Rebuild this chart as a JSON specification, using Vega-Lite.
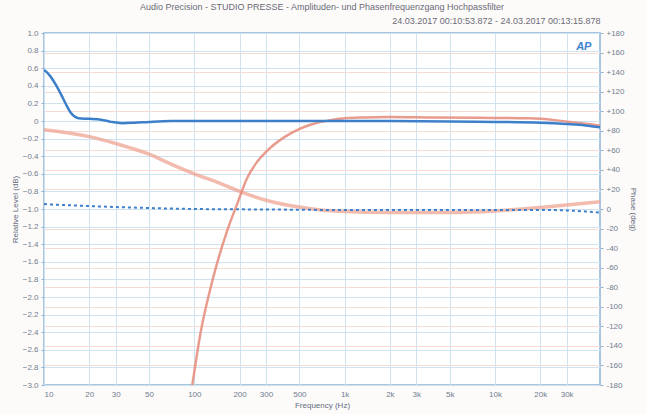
{
  "$schema": "https://vega.github.io/schema/vega-lite/v6.json",
  "autosize": {"type": "none"},
  "padding": {"left": 44, "top": 33, "right": 47, "bottom": 29},
  "width": 556,
  "height": 352,
  "background": "#fdfbf9",
  "title": {
    "text": "Audio Precision - STUDIO PRESSE - Amplituden- und Phasenfrequenzgang Hochpassfilter",
    "fontSize": 9,
    "fontWeight": "normal",
    "color": "#6a6a78",
    "font": "Liberation Sans",
    "anchor": "middle",
    "offset": 4
  },
  "config": {
    "font": "Liberation Sans",
    "view": {"fill": "#ffffff", "stroke": "#8eb3d3", "strokeWidth": 1.5},
    "axis": {"labelFont": "Liberation Sans", "titleFont": "Liberation Sans", "labelColor": "#6f7c90", "titleColor": "#5f6b80", "titleFontWeight": "normal"}
  },
  "datasets": {
    "amp": [
      {"f": 10, "ch": "A", "db": 0.58}, {"f": 10.5, "ch": "A", "db": 0.55}, {"f": 11, "ch": "A", "db": 0.51},
      {"f": 12, "ch": "A", "db": 0.41}, {"f": 13, "ch": "A", "db": 0.3}, {"f": 14, "ch": "A", "db": 0.19},
      {"f": 15, "ch": "A", "db": 0.1}, {"f": 16, "ch": "A", "db": 0.05}, {"f": 17, "ch": "A", "db": 0.03},
      {"f": 20, "ch": "A", "db": 0.025},
      {"f": 24, "ch": "A", "db": 0.015}, {"f": 28, "ch": "A", "db": -0.01}, {"f": 33, "ch": "A", "db": -0.025},
      {"f": 40, "ch": "A", "db": -0.02}, {"f": 50, "ch": "A", "db": -0.01}, {"f": 70, "ch": "A", "db": 0.0},
      {"f": 100, "ch": "A", "db": 0.0}, {"f": 200, "ch": "A", "db": 0.0}, {"f": 500, "ch": "A", "db": 0.0},
      {"f": 1000, "ch": "A", "db": 0.0}, {"f": 2000, "ch": "A", "db": 0.0}, {"f": 5000, "ch": "A", "db": -0.005},
      {"f": 10000, "ch": "A", "db": -0.01}, {"f": 20000, "ch": "A", "db": -0.02}, {"f": 30000, "ch": "A", "db": -0.035},
      {"f": 40000, "ch": "A", "db": -0.05}, {"f": 50000, "ch": "A", "db": -0.07},
      {"f": 85, "ch": "B", "db": -3.7}, {"f": 97, "ch": "B", "db": -3.0}, {"f": 110, "ch": "B", "db": -2.41},
      {"f": 134, "ch": "B", "db": -1.77}, {"f": 166, "ch": "B", "db": -1.24}, {"f": 194, "ch": "B", "db": -0.93},
      {"f": 226, "ch": "B", "db": -0.64}, {"f": 260, "ch": "B", "db": -0.47}, {"f": 300, "ch": "B", "db": -0.35},
      {"f": 400, "ch": "B", "db": -0.18}, {"f": 486, "ch": "B", "db": -0.1}, {"f": 600, "ch": "B", "db": -0.04},
      {"f": 807, "ch": "B", "db": 0.01}, {"f": 1000, "ch": "B", "db": 0.03}, {"f": 1340, "ch": "B", "db": 0.04},
      {"f": 2000, "ch": "B", "db": 0.045}, {"f": 3745, "ch": "B", "db": 0.04}, {"f": 10000, "ch": "B", "db": 0.035},
      {"f": 17000, "ch": "B", "db": 0.03}, {"f": 25000, "ch": "B", "db": 0.01}, {"f": 35000, "ch": "B", "db": -0.02},
      {"f": 48600, "ch": "B", "db": -0.05}, {"f": 50000, "ch": "B", "db": -0.055}
    ],
    "phase": [
      {"f": 10, "ch": "A", "deg": 5}, {"f": 20, "ch": "A", "deg": 3}, {"f": 50, "ch": "A", "deg": 1},
      {"f": 100, "ch": "A", "deg": 0}, {"f": 300, "ch": "A", "deg": -0.5}, {"f": 1000, "ch": "A", "deg": -1},
      {"f": 5000, "ch": "A", "deg": -1}, {"f": 20000, "ch": "A", "deg": -1}, {"f": 30000, "ch": "A", "deg": -1.5},
      {"f": 40000, "ch": "A", "deg": -2.5}, {"f": 50000, "ch": "A", "deg": -3.8},
      {"f": 10, "ch": "B", "deg": 81}, {"f": 20, "ch": "B", "deg": 74}, {"f": 30, "ch": "B", "deg": 67},
      {"f": 50, "ch": "B", "deg": 56}, {"f": 70, "ch": "B", "deg": 46}, {"f": 100, "ch": "B", "deg": 36},
      {"f": 150, "ch": "B", "deg": 26}, {"f": 200, "ch": "B", "deg": 18}, {"f": 300, "ch": "B", "deg": 9},
      {"f": 500, "ch": "B", "deg": 2}, {"f": 700, "ch": "B", "deg": -1}, {"f": 1000, "ch": "B", "deg": -2.5},
      {"f": 2000, "ch": "B", "deg": -3.5}, {"f": 5000, "ch": "B", "deg": -3.5}, {"f": 10000, "ch": "B", "deg": -2},
      {"f": 20000, "ch": "B", "deg": 1.5}, {"f": 30000, "ch": "B", "deg": 4}, {"f": 50000, "ch": "B", "deg": 7.5}
    ],
    "logo": [{"f": 39000, "db": 0.84, "t": "AP"}]
  },
  "layer": [
    {
      "data": {"name": "phase"},
      "encoding": {
        "x": {"field": "f", "type": "quantitative",
          "scale": {"type": "log", "domain": [10, 50000], "nice": false},
          "axis": {"orient": "top", "title": "24.03.2017 00:10:53.872 - 24.03.2017 00:13:15.878",
            "titleAnchor": "end", "titleFontSize": 9, "titleColor": "#6a6a78", "titlePadding": 8,
            "labels": false, "ticks": false, "domain": false, "grid": false}},
        "y": {"field": "deg", "type": "quantitative",
          "scale": {"domain": [-180, 180], "nice": false, "zero": false},
          "axis": {"orient": "right", "title": "Phase (deg)", "titleFontSize": 8, "titlePadding": 4,
            "values": [-180, -160, -140, -120, -100, -80, -60, -40, -20, 0, 20, 40, 60, 80, 100, 120, 140, 160, 180],
            "labelExpr": "datum.value > 0 ? '+' + datum.value : '' + datum.value",
            "labelFontSize": 8, "labelPadding": 3, "tickSize": 3, "tickColor": "#8eb3d3",
            "domain": false, "grid": true, "gridColor": "#f5dcd6", "gridWidth": 1}}
      },
      "layer": [
        {"transform": [{"filter": "datum.ch == 'B'"}],
          "mark": {"type": "line", "color": "#eea493", "strokeWidth": 3.5, "opacity": 0.75, "clip": true, "interpolate": "monotone"}},
        {"transform": [{"filter": "datum.ch == 'A'"}],
          "mark": {"type": "line", "color": "#3d7fc9", "strokeWidth": 2, "strokeDash": [3, 3], "clip": true, "interpolate": "monotone"}}
      ]
    },
    {
      "encoding": {
        "x": {"field": "f", "type": "quantitative",
          "scale": {"type": "log", "domain": [10, 50000], "nice": false},
          "axis": {"orient": "bottom", "title": "Frequency (Hz)", "titleFontSize": 8, "titlePadding": 3,
            "values": [10, 20, 30, 50, 100, 200, 300, 500, 1000, 2000, 3000, 5000, 10000, 20000, 30000],
            "labelExpr": "datum.value >= 1000 ? (datum.value / 1000) + 'k' : '' + datum.value",
            "labelFontSize": 8, "labelPadding": 5, "ticks": false, "domain": false,
            "grid": true, "gridColor": "#cfe2f0", "gridWidth": 1}},
        "y": {"field": "db", "type": "quantitative",
          "scale": {"domain": [-3, 1], "nice": false, "zero": false},
          "axis": {"orient": "left", "title": "Relative Level (dB)", "titleFontSize": 8, "titlePadding": 3,
            "values": [1, 0.8, 0.6, 0.4, 0.2, 0, -0.2, -0.4, -0.6, -0.8, -1, -1.2, -1.4, -1.6, -1.8, -2, -2.2, -2.4, -2.6, -2.8, -3],
            "labelExpr": "datum.value == 0 ? '0' : format(datum.value, '.1f')",
            "labelFontSize": 8, "labelPadding": 3, "tickSize": 3, "tickColor": "#8eb3d3",
            "domain": false, "grid": true, "gridColor": "#cfe2f0", "gridWidth": 1}}
      },
      "layer": [
        {"data": {"name": "amp"}, "transform": [{"filter": "datum.ch == 'B'"}],
          "mark": {"type": "line", "color": "#e58b7a", "strokeWidth": 2.5, "opacity": 0.85, "clip": true, "interpolate": "monotone"}},
        {"data": {"name": "amp"}, "transform": [{"filter": "datum.ch == 'A'"}],
          "mark": {"type": "line", "color": "#3d7fc9", "strokeWidth": 2.5, "clip": true, "interpolate": "monotone"}},
        {"data": {"name": "logo"},
          "mark": {"type": "text", "color": "#3b82d0", "fontSize": 11, "fontWeight": "bold", "fontStyle": "italic"},
          "encoding": {"text": {"field": "t"}}}
      ]
    }
  ],
  "resolve": {"scale": {"y": "independent"}, "axis": {"x": "independent", "y": "independent"}}
}
